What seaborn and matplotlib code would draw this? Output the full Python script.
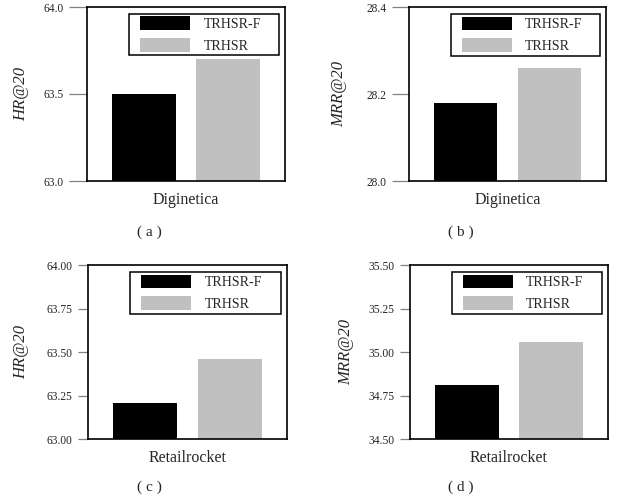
import matplotlib
matplotlib.use("Agg")
import matplotlib.pyplot as plt
from matplotlib.patches import Rectangle
from matplotlib.legend_handler import HandlerPatch
import seaborn as sns
import pandas as pd

# ---- data ----
models = ["TRHSR-F", "TRHSR"]
bar_colors = ["#000000", "#c0c0c0"]
datasets = ["Diginetica", "Diginetica", "Retailrocket", "Retailrocket"]
metrics = ["HR@20", "MRR@20", "HR@20", "MRR@20"]
captions = ["( a )", "( b )", "( c )", "( d )"]
hr_diginetica = [63.50, 63.70]
mrr_diginetica = [28.18, 28.26]
hr_retailrocket = [63.21, 63.46]
mrr_retailrocket = [34.81, 35.06]
values = [hr_diginetica, mrr_diginetica, hr_retailrocket, mrr_retailrocket]
ylims = [(63.0, 64.0), (28.0, 28.4), (63.0, 64.0), (34.5, 35.5)]
yticks = [[63.0, 63.5, 64.0],
          [28.0, 28.2, 28.4],
          [63.00, 63.25, 63.50, 63.75, 64.00],
          [34.50, 34.75, 35.00, 35.25, 35.50]]
ytick_labels = [["63.0", "63.5", "64.0"],
                ["28.0", "28.2", "28.4"],
                ["63.00", "63.25", "63.50", "63.75", "64.00"],
                ["34.50", "34.75", "35.00", "35.25", "35.50"]]

# ---- layout ----
W, H = 617, 504
axes_px = [(87.3, 7, 285, 181), (409, 7.3, 606, 181),
           (88.3, 265.3, 286.7, 439.3), (410, 265.3, 607.7, 439.3)]
tick_len_px = [18, 17, 10, 10]
ylabel_x = [-0.295, -0.315, -0.299, -0.283]
caption_pos = [(149, 232), (461, 232), (149, 487), (461, 487)]
LEG_FS = 10
HANDLE_OFFSET_PX = 6


def shifted_rect(legend, orig_handle, xdescent, ydescent, width, height, fontsize):
    return Rectangle((-xdescent + HANDLE_OFFSET_PX, -ydescent),
                     width - HANDLE_OFFSET_PX, height)


sns.set_theme(style="white")
plt.rcParams["font.family"] = ["Liberation Serif", "DejaVu Sans"]

fig = plt.figure(figsize=(W / 100, H / 100), dpi=100)

for i in range(4):
    l, t, r, b = axes_px[i]
    ax = fig.add_axes([l / W, 1 - b / H, (r - l) / W, (b - t) / H])
    df = pd.DataFrame({"dataset": [datasets[i]] * 2, "model": models,
                       "value": values[i]})
    sns.barplot(data=df, x="dataset", y="value", hue="model",
                hue_order=models, palette=bar_colors, saturation=1,
                width=0.85, gap=0.24, ax=ax, linewidth=0)
    ax.set_ylim(*ylims[i])
    ax.set_xlim(-0.5, 0.5)
    ax.set_yticks(yticks[i])
    ax.set_yticklabels(ytick_labels[i], fontsize=8.3)
    ax.tick_params(axis="y", length=tick_len_px[i] * 0.72, width=0.9,
                   color="#808080", direction="out", pad=4, left=True)
    ax.tick_params(axis="x", length=0, pad=8, labelsize=11.5)
    ax.set_xlabel("")
    ax.set_ylabel(metrics[i], fontsize=12, style="italic")
    ax.yaxis.set_label_coords(ylabel_x[i], 0.5)
    for s in ax.spines.values():
        s.set_visible(True)
        s.set_color("black")
        s.set_linewidth(1.2)
    handles, labels = ax.get_legend_handles_labels()
    ax_w_px = r - l
    leg_left = 42 / ax_w_px
    leg_right = 0.972
    leg_top = 0.962
    leg = ax.legend(handles, labels, loc="upper right",
                    bbox_to_anchor=(leg_left, 0, leg_right - leg_left, leg_top),
                    mode="expand", borderaxespad=0,
                    fontsize=LEG_FS, handlelength=4.2, handleheight=1.15,
                    handletextpad=0.95, labelspacing=0.5, borderpad=0.2,
                    fancybox=False, framealpha=1, edgecolor="black",
                    handler_map={h: HandlerPatch(patch_func=shifted_rect)
                                 for h in handles})
    leg.get_frame().set_linewidth(1.1)
    cx, cy = caption_pos[i]
    fig.text(cx / W, 1 - cy / H, captions[i], ha="center", va="center",
             fontsize=11)

fig.savefig("out.png", dpi=100)
